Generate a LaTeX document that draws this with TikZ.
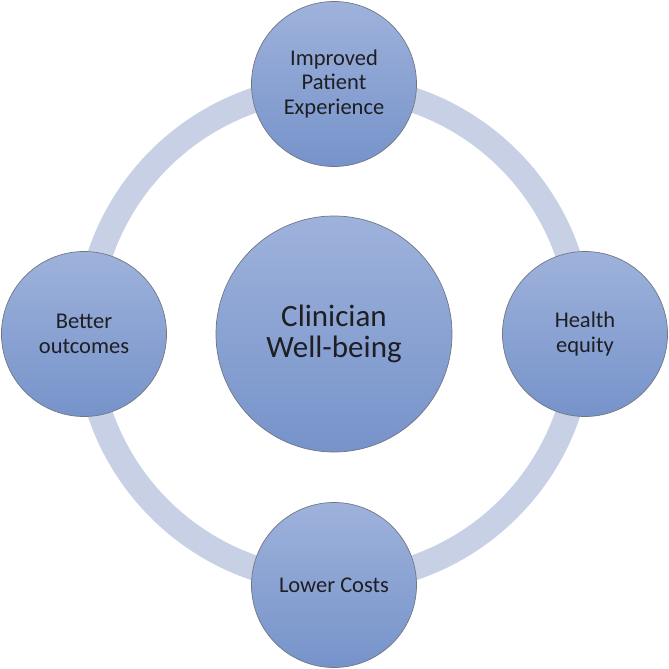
\documentclass[tikz,border=0pt]{standalone}
\usepackage{fontspec}
\setmainfont{Carlito}
\definecolor{ringc}{RGB}{199,208,228}
\definecolor{topc}{RGB}{158,178,219}
\definecolor{botc}{RGB}{118,147,202}
\definecolor{edgec}{RGB}{112,118,132}
\definecolor{txtc}{RGB}{30,30,35}
\tikzset{
  ball/.style={circle, draw=edgec, line width=0.7pt, top color=topc, bottom color=botc,
    inner sep=0pt, minimum size=165pt, align=center, text=txtc,
    font=\fontsize{22.5}{24.5}\selectfont},
  bigball/.style={ball, minimum size=236pt, font=\fontsize{31}{31}\selectfont},
  ringline/.style={draw=ringc, line width=25pt}
}
\begin{document}
\begin{tikzpicture}[x=1pt,y=-1pt]
\useasboundingbox (0,0) rectangle (669,669);
\coordinate (o) at (334,334);
\draw[ringline] (o) circle (247);
\node[bigball] (c) at (o) {Clinician\\Well-being};
\node[ball] (t) at (334,84) {Improved\\Patient\\Experience};
\node[ball] (l) at (84,334) {Better\\outcomes};
\node[ball] (r) at (585,334) {Health\\equity};
\node[ball] (b) at (334,585) {Lower Costs};
\end{tikzpicture}
\end{document}
